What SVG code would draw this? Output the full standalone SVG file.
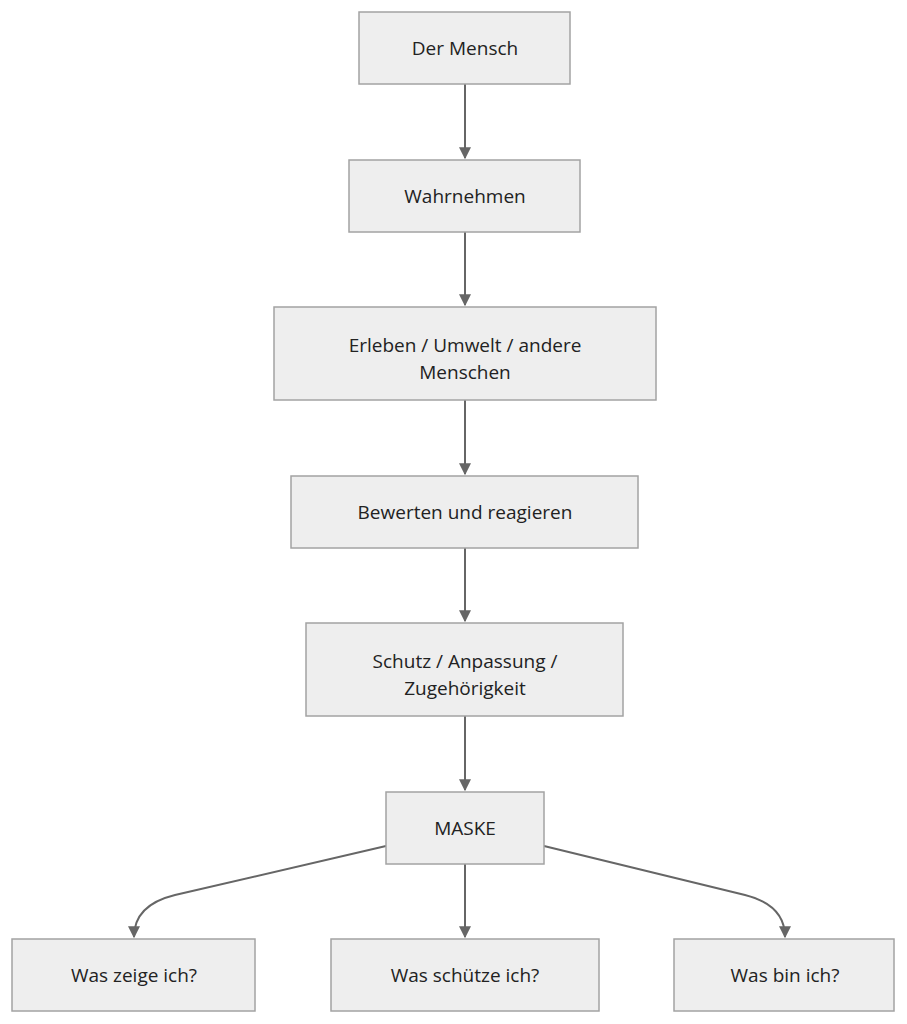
<svg xmlns="http://www.w3.org/2000/svg" width="907" height="1024" viewBox="0 0 907 1024">
<style>
.n rect{fill:#eeeeee;stroke:#a3a3a3;stroke-width:1.5}
.n text{font-family:"Open Sans","DejaVu Sans",sans-serif;font-size:19px;fill:#222;text-anchor:middle}
.e path{fill:none;stroke:#666;stroke-width:2;marker-end:url(#a)}
</style>
<defs><marker id="a" viewBox="0 0 10 10" refX="9" refY="5" markerWidth="6" markerHeight="6" orient="auto" markerUnits="strokeWidth"><path d="M0,0L10,5L0,10z" fill="#666"/></marker></defs>
<rect width="907" height="1024" fill="#fff"/>
<g class="e">
<path d="M465,84V158"/>
<path d="M465,232V305"/>
<path d="M465,400V474"/>
<path d="M465,548V621"/>
<path d="M465,716V790"/>
<path d="M465,864V937"/>
<path d="M386,846L175,895Q134,905 134,937"/>
<path d="M544,846L745,895Q785,905 785,937"/>
</g>
<g id="n1" class="n"><rect x="359" y="12" width="211" height="72"/><text x="465" y="55">Der Mensch</text></g>
<g id="n2" class="n"><rect x="349" y="160" width="231" height="72"/><text x="465" y="203">Wahrnehmen</text></g>
<g id="n3" class="n"><rect x="274" y="307" width="382" height="93"/><text x="465" y="352">Erleben / Umwelt / andere</text><text x="465" y="379">Menschen</text></g>
<g id="n4" class="n"><rect x="291" y="476" width="347" height="72"/><text x="465" y="519">Bewerten und reagieren</text></g>
<g id="n5" class="n"><rect x="306" y="623" width="317" height="93"/><text x="465" y="668">Schutz / Anpassung /</text><text x="465" y="695">Zugehörigkeit</text></g>
<g id="n6" class="n"><rect x="386" y="792" width="158" height="72"/><text x="465" y="835">MASKE</text></g>
<g id="n7" class="n"><rect x="12" y="939" width="243" height="72"/><text x="134" y="982">Was zeige ich?</text></g>
<g id="n8" class="n"><rect x="331" y="939" width="268" height="72"/><text x="465" y="982">Was schütze ich?</text></g>
<g id="n9" class="n"><rect x="674" y="939" width="220" height="72"/><text x="785" y="982">Was bin ich?</text></g>
</svg>
